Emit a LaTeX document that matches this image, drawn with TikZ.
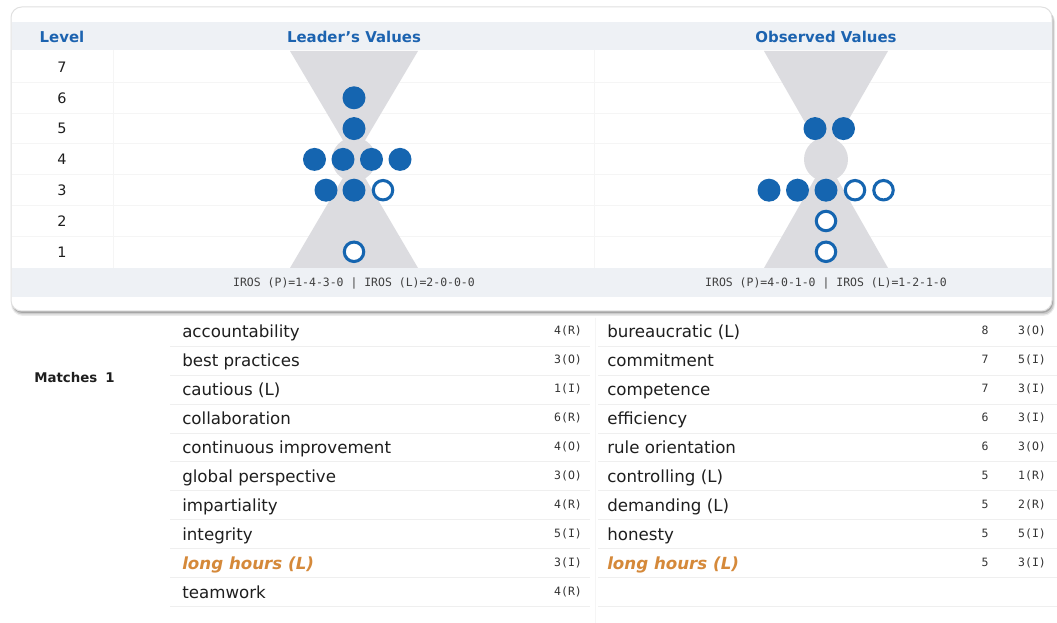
\documentclass[tikz,border=0pt]{standalone}
\usepackage{fontspec}
\setmainfont{DejaVu Sans}
\newfontfamily\monof{DejaVu Sans Mono}
\definecolor{hblue}{HTML}{1C63B0}
\definecolor{dotblue}{HTML}{1565B0}
\definecolor{hgray}{HTML}{DCDCE0}
\definecolor{band}{HTML}{EEF1F5}
\definecolor{orng}{HTML}{D5893A}
\definecolor{txt}{HTML}{1E1E1E}
\definecolor{rowline}{HTML}{EFEFEF}
\begin{document}
\begin{tikzpicture}[x=0.75pt,y=-0.75pt,
  hdr/.style={font=\bfseries\fontsize{11.2pt}{13pt}\selectfont, text=hblue, inner sep=0},
  lvl/.style={font=\fontsize{10.8pt}{12pt}\selectfont, text=txt, inner sep=0},
  dotf/.style={circle, fill=dotblue, minimum size=17.25pt, inner sep=0},
  doto/.style={circle, draw=dotblue, fill=white, line width=2.3pt, minimum size=14.6pt, inner sep=0},
  foot/.style={font=\monof\fontsize{8.6pt}{10pt}\selectfont, text=black!75, inner sep=0},
  item/.style={font=\fontsize{12.5pt}{14pt}\selectfont, text=txt, anchor=base west, inner sep=0},
  hitem/.style={font=\bfseries\itshape\fontsize{12.5pt}{14pt}\selectfont, text=orng, anchor=base west, inner sep=0},
  small/.style={font=\monof\fontsize{8.6pt}{10pt}\selectfont, text=black!80, inner sep=0, anchor=base},
  rline/.style={draw=rowline, line width=0.75pt}
]
\useasboundingbox (0,0) rectangle (1057,623);
\fill[white] (0,0) rectangle (1057,623);
% card shadow
\fill[black!8, rounded corners=9] (11,10) rectangle (1055,316);
\fill[black!20, rounded corners=8] (12,10) rectangle (1054,314.5);
\fill[black!35, rounded corners=8] (12,10) rectangle (1053,313);
% card
\fill[white, draw=black!12, line width=0.75pt, rounded corners=8] (11,7) rectangle (1052,311);
% bands
\fill[band] (11.5,22) rectangle (1051.5,50);
\fill[band] (11.5,268) rectangle (1051.5,297);
% row separators in card
\foreach \y in {82.4,113.2,144,174.8,205.6,236.4} \draw[draw=black!4, line width=0.75pt] (12,\y) -- (1051,\y);
\draw[draw=black!4, line width=0.75pt] (113,50) -- (113,268);
\draw[draw=black!4, line width=0.75pt] (594,50) -- (594,268);
% hourglasses
\fill[hgray] (290,51) -- (418,51) -- (354,159) -- cycle;
\fill[hgray] (290,268) -- (418,268) -- (354,159) -- cycle;
\fill[hgray] (354,159.4) circle[radius=22];
\fill[hgray] (764,51) -- (888,51) -- (826,159) -- cycle;
\fill[hgray] (764,268) -- (888,268) -- (826,159) -- cycle;
\fill[hgray] (826,159.4) circle[radius=22];
% headers
\node[hdr] (hlevel) at (62,37) {Level};
\node[hdr] (hleader) at (354,37) {Leader’s Values};
\node[hdr] (hobs) at (826,37) {Observed Values};
% level numbers
\foreach \n [count=\i from 0] in {7,6,5,4,3,2,1}
  \node[lvl] (lv\n) at (62,67+30.8*\i) {\n};
% leader dots
\node[dotf] (l6a) at (354,97.8) {};
\node[dotf] (l5a) at (354,128.6) {};
\node[dotf] (l4a) at (314.5,159.4) {};
\node[dotf] (l4b) at (343,159.4) {};
\node[dotf] (l4c) at (371.5,159.4) {};
\node[dotf] (l4d) at (400,159.4) {};
\node[dotf] (l3a) at (326,190.2) {};
\node[dotf] (l3b) at (354,190.2) {};
\node[doto] (l3c) at (383,190.2) {};
\node[doto] (l1a) at (354,251.8) {};
% observed dots
\node[dotf] (o5a) at (815,128.6) {};
\node[dotf] (o5b) at (843.5,128.6) {};
\node[dotf] (o3a) at (769,190.2) {};
\node[dotf] (o3b) at (797.5,190.2) {};
\node[dotf] (o3c) at (826,190.2) {};
\node[doto] (o3d) at (855,190.2) {};
\node[doto] (o3e) at (883.5,190.2) {};
\node[doto] (o2a) at (826,221) {};
\node[doto] (o1a) at (826,251.8) {};
% footers
\node[foot] (fl) at (354,283) {IROS (P)=1-4-3-0 | IROS (L)=2-0-0-0};
\node[foot] (fo) at (826,283) {IROS (P)=4-0-1-0 | IROS (L)=1-2-1-0};
% lower table lines
\foreach \i in {0,...,9} {
  \draw[rline] (170,346.4+28.9*\i) -- (590,346.4+28.9*\i);
  \draw[rline] (598,346.4+28.9*\i) -- (1057,346.4+28.9*\i);
}
\draw[draw=black!4, line width=0.75pt] (595,318) -- (595,623);
\node[font=\bfseries\fontsize{10pt}{12pt}\selectfont, text=txt, anchor=west, inner sep=0] (matches) at (34,378) {Matches\hspace{0.6em}1};
% left list
\foreach \t/\v [count=\i from 0] in {accountability/4(R), best practices/3(O), cautious (L)/1(I), collaboration/6(R), continuous improvement/4(O), global perspective/3(O), impartiality/4(R), integrity/5(I)} {
  \node[item] (L\i) at (182,338+28.9*\i) {\t};
  \node[small] (Ln\i) at (568,335+28.9*\i) {\v};
}
\node[hitem] (L8) at (182,569.2) {long hours (L)};
\node[small] (Ln8) at (568,566.2) {3(I)};
\node[item] (L9) at (182,598.1) {teamwork};
\node[small] (Ln9) at (568,595.1) {4(R)};
% right list
\foreach \t/\r/\v [count=\i from 0] in {bureaucratic (L)/8/3(O), commitment/7/5(I), competence/7/3(I), efficiency/6/3(I), rule orientation/6/3(O), controlling (L)/5/1(R), demanding (L)/5/2(R), honesty/5/5(I)} {
  \node[item] (R\i) at (607,338+28.9*\i) {\t};
  \node[small] (Rr\i) at (985,335+28.9*\i) {\r};
  \node[small] (Rn\i) at (1032,335+28.9*\i) {\v};
}
\node[hitem] (R8) at (607,569.2) {long hours (L)};
\node[small] (Rr8) at (985,566.2) {5};
\node[small] (Rn8) at (1032,566.2) {3(I)};
\end{tikzpicture}
\end{document}
